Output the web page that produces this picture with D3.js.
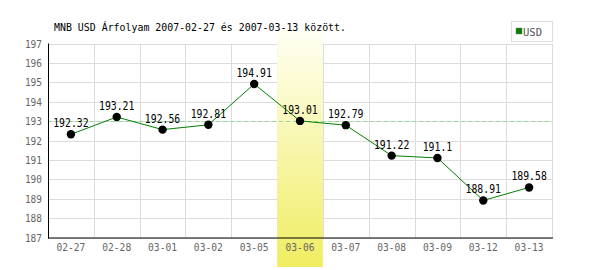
<!DOCTYPE html>
<html><head><meta charset="utf-8">
<script src="https://cdn.jsdelivr.net/npm/d3@7"></script>
<style>body{margin:0;background:#fff}svg{display:block}text{font-family:"DejaVu Sans Mono",monospace}</style>
</head><body><svg id="c" width="600" height="270"></svg>
<script>
const categories = ["02-27","02-28","03-01","03-02","03-05","03-06","03-07","03-08","03-09","03-12","03-13"];
const values = [192.32,193.21,192.56,192.81,194.91,193.01,192.79,191.22,191.1,188.91,189.58];
const labels = ["192.32","193.21","192.56","192.81","194.91","193.01","192.79","191.22","191.1","188.91","189.58"];
const yTicks = [187,188,189,190,191,192,193,194,195,196,197];
const refValue = 193;
const highlightCat = "03-06";
const title = "MNB USD Árfolyam 2007-02-27 és 2007-03-13 között.";
const seriesName = "USD";

const svg = d3.select("#c");
const L = 48, R = 552, T = 43.5, B = 237.5;
const x = d3.scaleBand().domain(categories).range([L, R]);
const y = d3.scaleLinear().domain([187,197]).range([B, T]);

const defs = svg.append("defs");
const g = defs.append("linearGradient").attr("id","hl").attr("x1",0).attr("y1",0).attr("x2",0).attr("y2",1);
g.append("stop").attr("offset","0%").attr("stop-color","#fffff4");
g.append("stop").attr("offset","100%").attr("stop-color","#f0ed62");

// grid
svg.append("g").selectAll("line").data(yTicks).join("line")
  .attr("x1",L).attr("x2",R).attr("y1",d=>Math.round(y(d))+0.5).attr("y2",d=>Math.round(y(d))+0.5)
  .attr("stroke","#dcdcdc");
svg.append("g").selectAll("line").data(categories).join("line")
  .attr("x1",(d,i)=>Math.round(L+x.bandwidth()*(i+1))+0.5).attr("x2",(d,i)=>Math.round(L+x.bandwidth()*(i+1))+0.5)
  .attr("y1",T).attr("y2",B).attr("stroke","#dcdcdc");

// highlight
svg.append("rect").attr("x",x(highlightCat)).attr("width",x.bandwidth())
  .attr("y",30).attr("height",237).attr("fill","url(#hl)");

// reference dashed line
svg.append("line").attr("x1",L).attr("x2",R).attr("y1",Math.round(y(refValue))+0.5).attr("y2",Math.round(y(refValue))+0.5)
  .attr("stroke","#9ad69a").attr("stroke-dasharray","4,3");

// axes
svg.append("line").attr("x1",L+0.5).attr("x2",L+0.5).attr("y1",T).attr("y2",B+1).attr("stroke","#000");
svg.append("line").attr("x1",L).attr("x2",R+1).attr("y1",B+0.5).attr("y2",B+0.5).attr("stroke","#000");

// y labels
svg.append("g").selectAll("text").data(yTicks).join("text")
  .attr("x",42).attr("y",d=>y(d)+4).attr("text-anchor","end")
  .attr("font-size",11).attr("fill","#666")
  .attr("textLength",d=>String(d).length*5.7).attr("lengthAdjust","spacingAndGlyphs").text(d=>d);
// x labels
svg.append("g").selectAll("text").data(categories).join("text")
  .attr("x",d=>x(d)+x.bandwidth()/2).attr("y",251).attr("text-anchor","middle")
  .attr("font-size",11).attr("fill","#666")
  .attr("textLength",d=>d.length*5.8).attr("lengthAdjust","spacingAndGlyphs").text(d=>d);

// line
const pts = categories.map((c,i)=>[x(c)+x.bandwidth()/2, y(values[i])]);
svg.append("path").attr("d",d3.line()(pts)).attr("fill","none").attr("stroke","#008000").attr("stroke-width",1);
svg.append("g").selectAll("circle").data(pts).join("circle")
  .attr("cx",d=>d[0]).attr("cy",d=>d[1]).attr("r",4.2).attr("fill","#000");
svg.append("g").selectAll("text").data(pts).join("text")
  .attr("x",d=>d[0]).attr("y",d=>d[1]-7).attr("text-anchor","middle")
  .attr("font-size",12).attr("fill","#000")
  .attr("textLength",(d,i)=>labels[i].length*5.9).attr("lengthAdjust","spacingAndGlyphs").text((d,i)=>labels[i]);

// title
svg.append("text").attr("x",54).attr("y",31).attr("font-size",11).attr("fill","#000")
  .attr("textLength",292).attr("lengthAdjust","spacingAndGlyphs").text(title);

// legend
svg.append("rect").attr("x",511.5).attr("y",21.5).attr("width",41).attr("height",20).attr("fill","#fff").attr("stroke","#ddd");
svg.append("rect").attr("x",516).attr("y",28).attr("width",6).attr("height",6).attr("fill","#008000").attr("stroke","#777").attr("stroke-width",0.5);
svg.append("text").attr("x",523).attr("y",36).attr("font-size",11).attr("fill","#555")
  .attr("textLength",19).attr("lengthAdjust","spacingAndGlyphs").text(seriesName);
</script></body></html>
